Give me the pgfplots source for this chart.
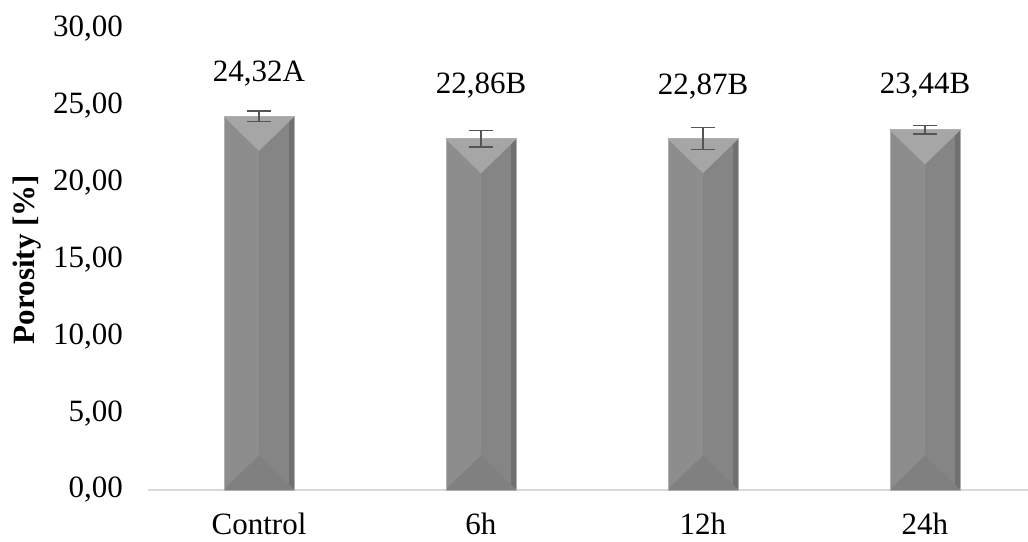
\documentclass[border=0pt]{standalone}
\usepackage{pgfplots}
\pgfplotsset{compat=1.18}
\usepackage{fontspec}
\setmainfont{Liberation Serif}
\definecolor{barfill}{RGB}{141,141,141}
\definecolor{bartop}{RGB}{166,166,166}
\definecolor{barbot}{RGB}{128,128,128}
\definecolor{barright}{RGB}{133,133,133}
\definecolor{barstrip}{RGB}{112,112,112}
\definecolor{baredge}{RGB}{175,175,175}
\definecolor{errcol}{RGB}{85,85,85}
\definecolor{axcol}{RGB}{217,217,217}
\tikzset{bevel/.style={
  path picture={
    \fill[barright, path picture={}] (path picture bounding box.north) rectangle (path picture bounding box.south east);
    \fill[barstrip, path picture={}] ([xshift=-2.5pt]path picture bounding box.north east) rectangle (path picture bounding box.south east);
    \fill[bartop, path picture={}] (path picture bounding box.north west) -- (path picture bounding box.north east) -- ([yshift=-17pt]path picture bounding box.north) -- cycle;
    \fill[barbot, path picture={}] (path picture bounding box.south west) -- (path picture bounding box.south east) -- ([yshift=17pt]path picture bounding box.south) -- cycle;
  }}}
\pgfplotstableread{
x y e
0 24.32 0.33
1 22.86 0.54
2 22.87 0.72
3 23.44 0.27
}\datatable
\begin{document}
\begin{tikzpicture}
\begin{axis}[
  name=ax,
  scale only axis,
  width=440pt, height=230.5pt,
  xmin=-0.5, xmax=3.464,
  ymin=0, ymax=30,
  enlargelimits=false,
  xtick={0,1,2,3},
  xticklabels={Control,6h,12h,24h},
  ytick={0,5,10,15,20,25,30},
  major tick length=0pt,
  axis x line*=bottom,
  axis y line*=left,
  x axis line style={draw=axcol, line width=0.9pt},
  y axis line style={draw=none},
  font=\fontsize{15.5}{18}\selectfont,
  tick label style={font=\fontsize{15.5}{18}\selectfont},
  yticklabel style={xshift=-9pt},
  xticklabel style={yshift=-8pt},
  /pgf/number format/.cd, fixed, fixed zerofill, precision=2, use comma, assume math mode=true,
  /pgfplots/.cd,
  every axis y label/.style={at={(axis description cs:0,0.5)}, xshift=-60.5pt, rotate=90, anchor=center},
  ylabel={\fontsize{15.5}{18}\selectfont\bfseries Porosity [\%]},
  clip=false,
  barstyle/.style={ybar, bar width=35pt, bar shift=0pt, fill=barfill, draw=baredge, line width=0.4pt, bevel},
]
\addplot[barstyle] table[x=x, y=y, skip coords between index={1}{4}] {\datatable};
\addplot[barstyle] table[x=x, y=y, skip coords between index={0}{1}, skip coords between index={2}{4}] {\datatable};
\addplot[barstyle] table[x=x, y=y, skip coords between index={0}{2}, skip coords between index={3}{4}] {\datatable};
\addplot[barstyle] table[x=x, y=y, skip coords between index={0}{3}] {\datatable};
\addplot[ybar, bar width=35pt, bar shift=0pt, draw=none, fill=none,
  error bars/.cd, y dir=both, y explicit,
  error bar style={draw=errcol, line width=0.8pt},
  error mark options={rotate=90, mark size=6pt, draw=errcol, line width=0.8pt}]
table[x=x, y=y, y error=e] {\datatable};
\addplot[draw=none, mark=none, nodes near coords, point meta=explicit symbolic,
  nodes near coords style={anchor=center, font=\fontsize{15.5}{18}\selectfont, text=black}]
table[x=x, y=y, meta=l] {
x y l
0 27.10 24,32A
1 26.35 22,86B
2 26.25 22,87B
3 26.30 23,44B
};
\end{axis}
\pgfresetboundingbox
\path ([xshift=-74pt,yshift=-25.5pt]ax.south west) rectangle ++(514pt,270.5pt);
\end{tikzpicture}
\end{document}
